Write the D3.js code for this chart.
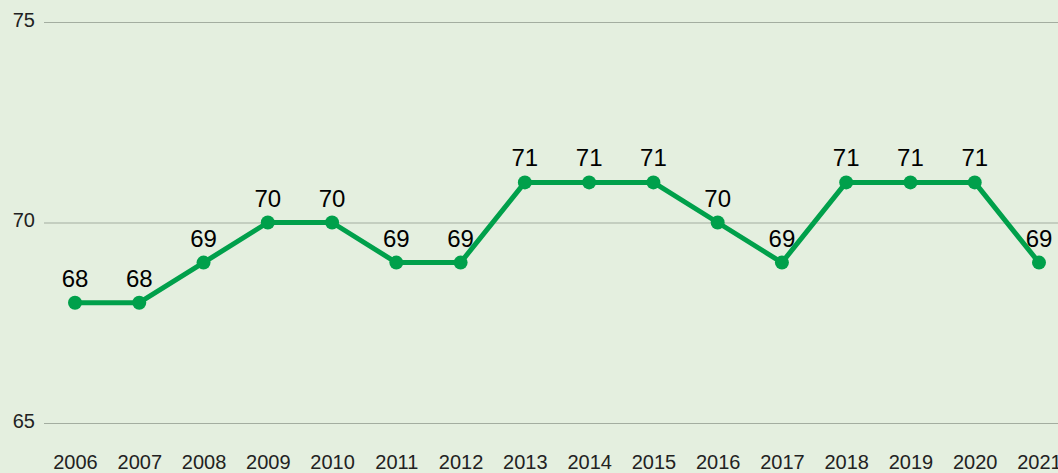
<!DOCTYPE html>
<html>
  <head>
    <meta charset="UTF-8">
    <title>Line chart</title>
    <script src="https://d3js.org/d3.v7.min.js"></script>
    <style>
      body { margin: 0; background: #e4efdf; }
      svg { display: block; font-family: "Liberation Sans", Arial, sans-serif; }
    </style>
  </head>
  <body>
    <div id="chart-container"></div>
  <script type="text/javascript">

    const years = [2006, 2007, 2008, 2009, 2010, 2011, 2012, 2013, 2014, 2015, 2016, 2017, 2018, 2019, 2020, 2021];
    const values = [68, 68, 69, 70, 70, 69, 69, 71, 71, 71, 70, 69, 71, 71, 71, 69];
    const yTicks = [65, 70, 75];

    const width = 1058;
    const height = 473;
    const margin = ({top: 22, right: 19, bottom: 50, left: 75});

    const data = years.map((y, i) => ({year: y, value: values[i]}));

    const x = d3.scalePoint()
        .domain(years)
        .range([margin.left, width - margin.right]);

    const y = d3.scaleLinear()
        .domain([65, 75])
        .range([height - margin.bottom, margin.top]);

    const svg = d3.select("#chart-container")
        .append("svg")
        .attr("width", width)
        .attr("height", height);

    svg.append("rect")
        .attr("width", width)
        .attr("height", height)
        .attr("fill", "#e4efdf");

    // Gridlines + y labels
    const yAxis = g => g
        .attr("transform", `translate(44,0)`)
        .call(d3.axisLeft(y).tickValues(yTicks).tickSize(-(width - 44)).tickPadding(9))
        .attr("font-size", 20)
        .attr("font-family", "Liberation Sans, Arial, sans-serif")
        .call(g => g.select(".domain").remove())
        .call(g => g.selectAll(".tick line").attr("stroke", "#a3ada0").attr("stroke-width", 1))
        .call(g => g.selectAll(".tick text")
            .attr("fill", "#222")
            .attr("dy", "0.2em"));

    const xAxis = g => g
        .attr("transform", `translate(0,${height - 28})`)
        .call(d3.axisBottom(x).tickSize(0).tickPadding(10).tickFormat(d3.format("d")))
        .attr("font-size", 20)
        .attr("font-family", "Liberation Sans, Arial, sans-serif")
        .call(g => g.select(".domain").remove())
        .call(g => g.selectAll(".tick text")
            .attr("fill", "#222"));

    svg.append("g").call(yAxis);
    svg.append("g").call(xAxis);

    const line = d3.line()
        .x(d => x(d.year))
        .y(d => y(d.value));

    svg.append("path")
        .datum(data)
        .attr("fill", "none")
        .attr("stroke", "#00a04b")
        .attr("stroke-width", 5)
        .attr("stroke-linejoin", "round")
        .attr("d", line);

    svg.append("g")
        .selectAll("circle")
        .data(data)
        .join("circle")
        .attr("cx", d => x(d.year))
        .attr("cy", d => y(d.value))
        .attr("r", 7)
        .attr("fill", "#00a04b");

    svg.append("g")
        .selectAll("text")
        .data(data)
        .join("text")
        .attr("x", d => Math.min(x(d.year), width - 15))
        .attr("y", d => y(d.value) - 16)
        .attr("text-anchor", "middle")
        .attr("font-size", 24)
        .attr("fill", "#000")
        .text(d => d.value);
  </script>
  </body>
</html>
